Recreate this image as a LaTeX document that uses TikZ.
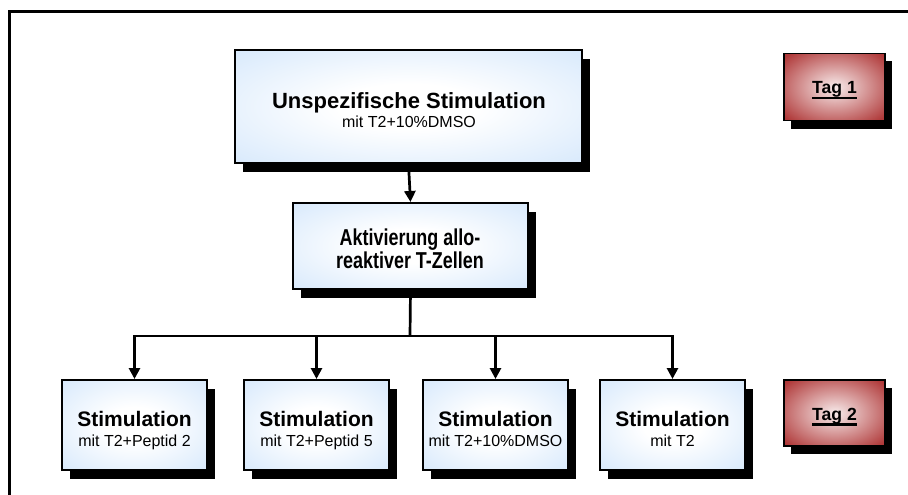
\documentclass[tikz,border=0pt]{standalone}
\usepackage{fontspec}
\setmainfont{Liberation Sans}
\newfontfamily\narrowfont[FakeStretch=0.78]{Liberation Sans}
\usetikzlibrary{arrows.meta,shadows}
\definecolor{bluegl}{RGB}{194,221,250}
\definecolor{redgl}{RGB}{128,12,12}
\definecolor{redmid}{RGB}{176,58,58}
\definecolor{redin}{RGB}{248,236,236}
\pgfdeclareradialshading{blueglow}{\pgfpoint{0bp}{0bp}}{color(0bp)=(white); color(10bp)=(white); color(50bp)=(bluegl); color(70bp)=(bluegl)}
\pgfdeclareradialshading{redglow}{\pgfpoint{0bp}{0bp}}{color(0bp)=(redin); color(33bp)=(redmid); color(50bp)=(redgl); color(70bp)=(redgl)}
\newsavebox\ulbox
\newcommand\thickul[1]{\sbox\ulbox{#1}\rlap{\raisebox{-5.5pt}{\rule{\wd\ulbox}{2.5pt}}}\usebox\ulbox}
\tikzset{
  bluebox/.style={draw=black, line width=2pt, shading=blueglow,
    drop shadow={shadow xshift=8pt, shadow yshift=-9pt, fill=black, opacity=1},
    inner sep=0pt},
  smallbox/.style={bluebox, minimum width=145pt, minimum height=90pt},
  redbox/.style={draw=black, line width=1.5pt, shading=redglow,
    drop shadow={shadow xshift=7pt, shadow yshift=-8pt, fill=black, opacity=1},
    inner sep=0pt, minimum width=101pt, minimum height=67pt},
  wire/.style={line width=2.7pt, black},
  arr/.style={wire, -{Triangle[length=11pt,width=11pt]}},
  lbl/.style={anchor=base, inner sep=0pt},
  bigtitle/.style={lbl, font=\fontsize{22}{24}\selectfont\bfseries},
  midtitle/.style={lbl, font=\fontsize{23}{24}\selectfont\narrowfont\bfseries},
  boxtitle/.style={lbl, font=\fontsize{21}{24}\selectfont\bfseries},
  subtitle/.style={lbl, font=\fontsize{16}{19}\selectfont},
  tagtitle/.style={lbl, font=\fontsize{17.6}{20}\selectfont\bfseries},
}
\begin{document}
\begin{tikzpicture}[x=1pt,y=-1pt]
\useasboundingbox (0,0) rectangle (908,495);
% frame
\draw[line width=3pt] (9.5,495) -- (9.5,12) -- (908,12);
% boxes
\node[bluebox, minimum width=347pt, minimum height=113pt] (top) at (408.5,106.5) {};
\node[bluebox, minimum width=235pt, minimum height=86pt] (mid) at (410.5,246) {};
\node[smallbox] (b1) at (134.5,425) {};
\node[smallbox] (b2) at (316.5,425) {};
\node[smallbox] (b3) at (495.5,425) {};
\node[smallbox] (b4) at (672.5,425) {};
\node[redbox] (tag1) at (834.5,87) {};
\node[redbox, minimum height=66pt] (tag2) at (834.5,413) {};
% texts
\node[bigtitle] (ttop) at (409,108) {Unspezifische Stimulation};
\node[subtitle] (stop) at (409,127) {mit T2+10\%DMSO};
\node[midtitle] (tmid1) at (410,245) {Aktivierung allo-};
\node[midtitle] (tmid2) at (410,268) {reaktiver T-Zellen};
\node[boxtitle] (tb1) at (134.5,426) {Stimulation};
\node[subtitle] (sb1) at (134.5,446) {mit T2+Peptid 2};
\node[boxtitle] (tb2) at (316.5,426) {Stimulation};
\node[subtitle] (sb2) at (316.5,446) {mit T2+Peptid 5};
\node[boxtitle] (tb3) at (495.5,426) {Stimulation};
\node[subtitle] (sb3) at (495.5,446) {mit T2+10\%DMSO};
\node[boxtitle] (tb4) at (672.5,426) {Stimulation};
\node[subtitle] (sb4) at (672.5,446) {mit T2};
\node[tagtitle] (ttag1) at (834.5,94) {\thickul{Tag 1}};
\node[tagtitle] (ttag2) at (834.5,420) {\thickul{Tag 2}};
% connectors
\coordinate (bus) at (410,336);
\draw[arr] (top.south) -- (mid.north);
\draw[wire] (mid.south) -- (bus);
\draw[wire, line cap=rect] (b1.north |- bus) -- (b4.north |- bus);
\foreach \b in {b1,b2,b3,b4}
  \draw[arr] (\b.north |- bus) -- (\b.north);
\end{tikzpicture}
\end{document}
